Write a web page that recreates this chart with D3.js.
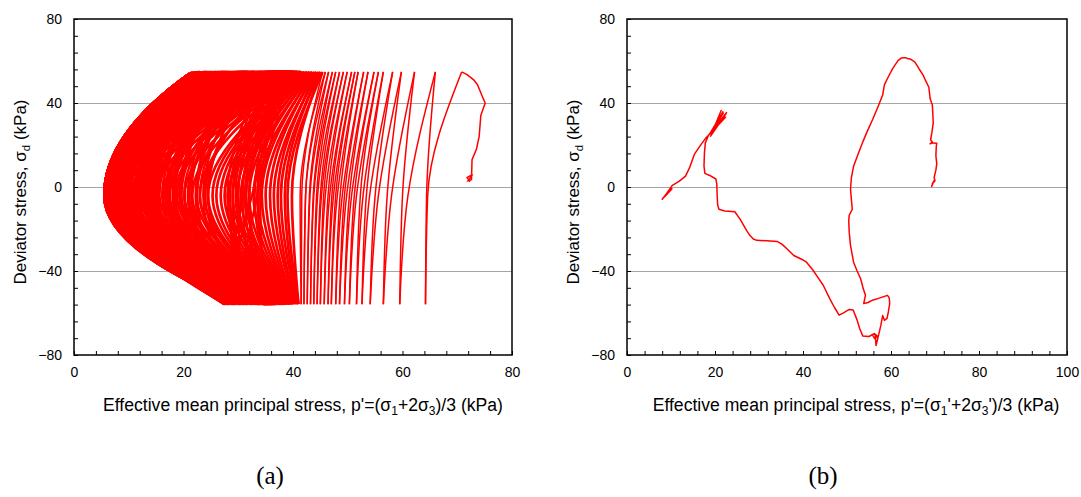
<!DOCTYPE html>
<html>
<head>
<meta charset="utf-8">
<script src="https://cdn.jsdelivr.net/npm/d3@7"></script>
<style>
  body { margin: 0; background: #fff; }
  text { font-family: "Liberation Sans", Arial, sans-serif; fill: #000; }
</style>
</head>
<body>
<script>
// ---------- panel (a): cyclic stress path ----------
// start of the test, before the first compression peak
const initP = [72.3, 71.8, 72.8, 72.0, 72.6, 72.7, 73.5, 74.0, 74.3, 75.1, 74.6, 73.7, 73.0, 71.8];
const initQ = [2.5, 4.5, 6.0, 3.0, 3.5, 13, 18, 24, 34, 40, 43, 48.7, 51, 53.5];

// stress levels the loops turn at (kPa)
const topQ = 54.8, kneeTopQ = 53.8, crossQ = -4, kneeBotQ = -52, botQ = -55.8;

// p' at the compression peak of each cycle
const pTop = [
  70.8, 66.0, 62.2, 59.8, 58.2, 56.5, 55.6, 54.8, 53.7, 52.9,
  51.9, 51.3, 50.7, 49.9, 49.2, 48.5, 47.8, 47.2, 46.5, 45.9,
  45.4, 45.0, 44.7, 44.3, 44.0, 43.6, 43.3, 43.0, 42.7, 42.4,
  42.1, 41.8, 41.5, 41.3, 41.0, 40.8, 40.5, 40.3, 40.1, 39.9,
  39.7, 39.5, 39.3, 39.1, 38.9, 38.7, 38.5, 38.3, 38.1, 37.9,
  39.6, 37.2, 38.8, 36.1, 37.9, 35.0, 36.8, 34.2, 35.7, 33.1,
  34.6, 32.0, 33.8, 31.2, 32.7, 30.1, 31.6, 29.4, 30.8, 28.3,
  29.7, 27.5, 28.9, 26.4, 27.8, 25.6, 27.0, 24.8, 26.1, 23.9,
  25.3, 23.2, 24.4, 22.6, 23.7, 22.1, 23.0, 21.8, 22.4, 21.6,
  38.4, 36.5, 34.9, 33.4, 31.9, 30.4, 28.7, 27.2, 25.0, 22.9,
  36.9, 24.1, 33.0, 27.9, 39.1, 22.7, 30.9, 35.4, 25.7, 37.6,
  29.1, 23.4, 34.3, 26.8, 31.8, 38.1, 24.9, 32.4, 28.5, 36.2,
  22.2, 30.2, 34.8, 27.3, 39.4, 25.2, 33.6, 29.9, 23.0, 37.0,
  31.2, 26.2, 35.9, 28.0, 24.3, 38.7, 32.9, 27.0, 30.6, 22.5,
  34.1, 25.9, 36.6, 29.4, 23.7, 33.2, 28.6, 37.9, 26.5, 31.5];
// p' where unloading crosses q = crossQ
const pDown = [
  64.6, 61.0, 58.0, 55.6, 54.0, 52.8, 51.6, 50.7, 49.8, 49.0,
  48.1, 47.4, 46.7, 45.9, 45.2, 44.5, 43.8, 43.1, 42.3, 41.3,
  39.0, 37.8, 36.5, 35.0, 33.5, 32.0, 30.5, 29.0, 27.5, 26.0,
  24.5, 23.0, 21.6, 20.2, 18.8, 17.5, 16.2, 15.0, 13.8, 12.7,
  11.6, 10.6, 9.7, 8.9, 8.2, 7.6, 7.1, 6.7, 6.4, 6.2,
  5.6, 12.4, 6.0, 18.5, 5.5, 9.2, 24.0, 5.8, 14.6, 6.4,
  20.8, 5.5, 8.1, 22.5, 5.7, 11.0, 16.8, 5.5, 7.2, 19.6,
  5.6, 13.5, 6.8, 17.2, 5.5, 10.1, 15.4, 5.7, 12.7, 6.2,
  14.8, 5.5, 8.7, 11.9, 5.6, 9.5, 13.0, 5.5, 7.7, 10.4,
  33.5, 5.8, 28.0, 6.6, 23.6, 5.5, 18.0, 5.6, 11.6, 5.5,
  8.2, 5.6, 17.4, 6.9, 31.5, 5.5, 12.2, 5.7, 9.9, 30.0,
  5.5, 13.6, 7.5, 16.1, 5.6, 33.0, 6.3, 10.8, 5.5, 29.5,
  8.8, 5.5, 14.1, 6.0, 34.0, 5.5, 23.0, 7.9, 5.6, 28.5,
  5.5, 11.0, 6.7, 18.4, 5.5, 32.0, 20.1, 5.7, 13.2, 6.5,
  16.6, 5.5, 30.8, 8.5, 5.6, 24.4, 6.2, 31.2, 10.2, 5.5];
// p' where extension loading reaches the extension line (null = never)
const pKneeBot = [
  null, null, null, null, null, null, null, null, null, null,
  null, null, null, null, null, null, null, null, null, null,
  null, null, null, null, null, null, null, null, null, null,
  null, null, null, null, null, null, null, null, 34.8, 33.7,
  32.6, 31.6, 30.7, 29.9, 29.2, 28.6, 28.1, 27.7, 27.4, 27.2,
  27.0, null, 26.9, null, 27.1, 29.2, null, 26.8, null, 26.9,
  null, 26.7, 28.1, null, 26.8, null, null, 26.6, 27.2, null,
  26.7, null, 26.9, null, 26.6, null, null, 26.5, null, 26.6,
  null, 26.4, null, null, 26.5, null, null, 26.4, null, null,
  null, 27.0, null, 26.9, null, 26.7, null, 26.6, null, 26.4,
  28.2, 26.5, null, 26.9, null, 26.4, null, 26.8, null, null,
  26.7, null, 27.5, null, 26.9, null, 26.6, null, 26.7, null,
  null, 26.8, null, 26.7, null, 26.5, null, 27.9, 26.6, null,
  26.8, null, 27.0, null, 26.5, null, null, 26.6, null, 26.5,
  null, 26.7, null, 28.5, 26.6, null, 26.8, null, null, 26.8];
// p' at the extension trough of each cycle
const pBot = [
  64.2, 59.5, 56.5, 54.1, 52.6, 51.6, 50.3, 49.4, 48.5, 47.8,
  47.0, 46.4, 45.7, 45.0, 44.4, 43.8, 43.2, 42.6, 42.0, 41.5,
  41.0, 40.7, 40.4, 40.1, 39.9, 39.7, 39.5, 39.3, 39.1, 38.9,
  38.7, 38.5, 38.3, 38.1, 37.9, 37.7, 37.5, 37.3, 37.1, 36.9,
  36.7, 36.5, 36.3, 36.1, 35.9, 35.7, 35.5, 35.3, 35.1, 34.9,
  34.8, 33.2, 34.3, 32.5, 33.7, 31.8, 33.0, 31.0, 32.3, 30.4,
  31.6, 29.9, 31.0, 29.4, 30.5, 29.0, 30.0, 28.7, 29.6, 28.4,
  29.2, 28.2, 28.9, 28.0, 28.6, 27.9, 28.4, 27.8, 28.2, 27.7,
  28.0, 27.6, 27.9, 27.5, 27.8, 27.5, 27.7, 27.4, 27.6, 27.4,
  36.0, 34.0, 32.8, 31.4, 30.2, 29.3, 28.8, 28.1, 27.8, 27.5,
  33.6, 27.6, 36.4, 29.8, 37.8, 27.5, 31.2, 34.5, 28.4, 35.2,
  30.1, 28.9, 32.7, 29.0, 33.9, 36.8, 27.9, 31.7, 30.6, 37.4,
  28.2, 32.2, 35.7, 29.4, 34.9, 27.7, 37.1, 30.9, 28.6, 33.3,
  31.5, 29.2, 36.1, 30.3, 27.8, 35.5, 32.9, 28.8, 34.2, 27.6,
  36.7, 29.6, 33.1, 31.0, 28.1, 37.6, 30.4, 35.0, 29.0, 32.4];
// p' where reloading crosses q = crossQ
const pUp = [
  64.4, 60.0, 57.2, 55.0, 53.4, 52.3, 51.2, 50.3, 49.4, 48.6,
  47.8, 47.1, 46.4, 45.6, 45.0, 44.3, 43.7, 43.0, 42.3, 41.6,
  39.8, 38.5, 37.2, 35.8, 34.3, 32.8, 31.3, 29.8, 28.3, 26.8,
  25.3, 23.8, 22.4, 21.0, 19.6, 18.2, 16.9, 15.6, 14.4, 13.2,
  12.1, 11.1, 10.2, 9.3, 8.6, 7.9, 7.4, 6.9, 6.6, 6.3,
  6.8, 5.5, 15.2, 5.7, 21.0, 8.4, 5.5, 12.9, 24.5, 5.6,
  10.4, 17.3, 5.5, 7.0, 20.8, 5.6, 13.8, 9.0, 5.5, 18.2,
  6.1, 22.4, 5.5, 11.5, 16.2, 5.7, 7.9, 19.5, 5.5, 14.3,
  9.8, 5.6, 16.8, 6.5, 12.6, 5.5, 15.0, 8.3, 5.6, 32.5,
  30.0, 5.5, 16.9, 7.4, 22.2, 5.6, 13.1, 6.9, 5.5, 5.5,
  5.5, 14.0, 6.4, 30.5, 5.5, 9.6, 5.6, 12.1, 5.5, 16.7,
  7.2, 5.5, 10.7, 5.6, 32.0, 5.5, 8.0, 15.1, 5.5, 11.3,
  5.5, 29.0, 5.7, 33.5, 6.8, 5.5, 21.4, 5.5, 9.1, 5.6,
  12.5, 5.5, 7.7, 5.5, 31.0, 5.6, 10.0, 5.5, 14.6, 6.0,
  5.5, 28.5, 5.5, 8.9, 5.6, 19.2, 29.0, 13.9, 5.6, 7.5];
// p' where compression reloading reaches the peak level (null = never)
const pKneeTop = [
  null, null, null, null, null, null, null, null, null, null,
  null, null, null, null, null, null, null, null, null, null,
  null, null, null, null, null, null, null, null, null, null,
  null, 39.8, 38.4, 37.0, 35.6, 34.2, 32.9, 31.6, 30.4, 29.2,
  28.1, 27.1, 26.2, 25.3, 24.6, 23.9, 23.4, 22.9, 22.6, 22.3,
  22.3, 21.0, 30.7, 21.2, null, 23.9, 21.0, 28.4, null, 21.1,
  25.9, null, 21.0, 22.5, null, 21.1, null, 24.5, 21.0, null,
  21.6, null, 21.0, null, null, 21.2, 23.4, null, 21.0, null,
  null, 21.1, null, 22.0, null, 21.0, null, null, 21.1, null,
  null, 21.0, null, 22.9, null, 21.1, null, null, 21.0, 21.0,
  21.0, 29.5, 21.9, null, 21.0, 25.1, 21.1, null, 21.0, null,
  null, 21.0, null, 21.1, null, 21.0, 23.5, null, 21.0, null,
  21.0, null, 21.2, null, 22.3, 21.0, null, 21.0, 24.6, 21.1,
  null, 21.0, 23.2, 21.0, null, 21.1, 25.5, 21.0, null, 21.5,
  21.0, null, 21.0, null, 21.1, null, null, null, 21.1, 23.0];

// ---------- panel (b): single stress path ----------
const pathBP = [69.2, 69.7, 69.3, 69.9, 69.4, 70.0, 69.8, 70.2, 70.4, 70.2, 70.3, 70.4, 69.6, 68.9, 69.4, 69.0, 69.3, 69.6, 69.5, 69.4,
  68.9, 68.6, 67.9, 67.3, 66.4, 65.4, 64.5, 63.8, 63.2, 62.3, 61.6, 60.4, 59.4, 58.5, 58.1, 57.0, 55.8, 54.6, 53.5, 52.4,
  51.5, 51.0, 50.8, 51.0, 51.2, 50.5, 50.4, 50.5, 50.8, 51.5, 52.3, 53.1, 53.7, 54.2, 53.8, 54.8, 55.8, 57.5, 59.2, 59.6,
  59.7, 59.4, 59.1, 58.5, 58.1, 57.7, 57.3, 56.9, 56.6, 56.4, 55.7, 56.3, 56.9, 56.2, 55.0, 53.6, 52.9, 52.3, 51.4, 50.5,
  49.3, 48.2, 47.2, 46.1, 44.6, 43.3, 42.2, 40.8, 39.8, 37.9, 36.4, 35.2, 34.1, 31.8, 29.5, 28.7, 27.9, 27.2, 25.7, 24.5,
  22.2, 20.9, 20.6, 20.5, 20.4, 20.2, 18.8, 17.7, 17.5, 17.6, 17.8, 18.5, 19.0, 21.8, 19.3, 22.5, 19.0, 21.4, 19.6, 22.6,
  18.9, 21.2, 19.5, 22.1, 18.7, 21.9, 19.2, 22.4, 18.6, 17.9, 16.6, 15.3, 14.2, 13.3, 11.9, 10.7, 10.3, 8.3, 10.0, 8.0,
  9.6, 8.5, 10.2, 8.2, 9.2];
const pathBQ = [0.0, 2.6, 0.8, 3.4, 1.6, 3.0, 4.5, 8, 11, 15, 19.5, 20.8, 21.0, 20.6, 21.3, 22.5, 26, 30.5, 35, 39,
  42, 47.5, 50.5, 53.3, 56.2, 59.6, 60.8, 61.2, 61.6, 61.4, 60.2, 56.5, 52.5, 48.6, 43.8, 38, 32, 26.5, 21, 15,
  9.9, 4.5, -1.1, -6, -10.6, -13.5, -16, -21.5, -27.9, -35.8, -40, -43.7, -48.5, -51.5, -55.5, -55, -53.9, -52.8, -51.6, -52.8,
  -55.5, -59.5, -62.6, -63.5, -61.2, -65.8, -69.5, -72.9, -75.5, -70, -70.2, -72.2, -71, -69.8, -71.2, -71, -67.5, -63.4, -58.6, -58.3,
  -59.8, -61, -57.5, -53.3, -46.8, -42.8, -39.4, -35.8, -34.5, -32.6, -29.5, -27.2, -25.9, -25.6, -25.4, -24.8, -23, -20.8, -15.3, -11.8,
  -11.4, -10.6, -8.5, -4.3, 1.5, 3.8, 5.5, 6.5, 10, 16.2, 21, 24.5, 26.0, 35.8, 25.2, 34.8, 24.2, 36.4, 27.2, 35.4,
  25.5, 33.8, 26.8, 34.0, 25.0, 35.2, 26.4, 33.2, 24.8, 23.3, 19.6, 15.5, 9.1, 5.2, 2.8, 1.3, 0.8, -5.2, -0.5, -5.8,
  -1.8, -4.6, -0.9, -5.4, -3.2];

// ---------- axes ----------
const qTicks = [-80, -40, 0, 40, 80];
const qGrid = [-40, 0, 40];
const qMinor = d3.range(-80, 81, 8);
const pTicksA = [0, 20, 40, 60, 80];
const pMinorA = d3.range(0, 81, 4);
const pTicksB = [0, 20, 40, 60, 80, 100];
const pMinorB = d3.range(0, 101, 4);

const W = 1081, H = 497;
const svg = d3.select("body").append("svg").attr("width", W).attr("height", H);
svg.append("rect").attr("width", W).attr("height", H).attr("fill", "#fff");

function drawPanel(left, right, pMax, pTicks, pMinor, primes, tag, tagX, titleX) {
  const top = 19, bottom = 355;
  const x = d3.scaleLinear().domain([0, pMax]).range([left, right]);
  const y = d3.scaleLinear().domain([-80, 80]).range([bottom, top]);
  const g = svg.append("g");

  // grid
  g.append("g")
    .attr("transform", "translate(" + left + ",0)")
    .call(d3.axisLeft(y).tickValues(qGrid).tickSize(-(right - left)).tickFormat(""))
    .call(s => s.select(".domain").remove())
    .selectAll("line").attr("stroke", "#a6a6a6").attr("stroke-width", 1);

  // inner minor ticks
  g.append("g")
    .attr("transform", "translate(0," + bottom + ")")
    .call(d3.axisBottom(x).tickValues(pMinor).tickSize(-4).tickFormat(""))
    .call(s => s.select(".domain").remove());
  g.append("g")
    .attr("transform", "translate(" + left + ",0)")
    .call(d3.axisLeft(y).tickValues(qMinor).tickSize(-4).tickFormat(""))
    .call(s => s.select(".domain").remove());

  // labels
  g.append("g")
    .attr("transform", "translate(0," + bottom + ")")
    .call(d3.axisBottom(x).tickValues(pTicks).tickSize(0).tickPadding(12))
    .call(s => s.select(".domain").remove())
    .selectAll("text").attr("font-size", 14).attr("font-family", "Liberation Sans, Arial, sans-serif");
  g.append("g")
    .attr("transform", "translate(" + left + ",0)")
    .call(d3.axisLeft(y).tickValues(qTicks).tickSize(0).tickPadding(12))
    .call(s => s.select(".domain").remove())
    .selectAll("text").attr("font-size", 14).attr("font-family", "Liberation Sans, Arial, sans-serif");

  // y title
  const yt = g.append("text")
    .attr("transform", "translate(" + (left - 54) + "," + ((top + bottom) / 2 + 5) + ") rotate(-90)")
    .attr("text-anchor", "middle").attr("dy", "0.35em").attr("font-size", 17);
  yt.append("tspan").text("Deviator stress, σ");
  yt.append("tspan").attr("font-size", 11.5).attr("dy", 4).text("d");
  yt.append("tspan").attr("dy", -4).text(" (kPa)");

  // x title
  const xt = g.append("text")
    .attr("x", titleX).attr("y", 411)
    .attr("text-anchor", "middle").attr("font-size", 17.6);
  xt.append("tspan").text("Effective mean principal stress, p'=(σ");
  xt.append("tspan").attr("font-size", 12).attr("dy", 4).text("1");
  xt.append("tspan").attr("dy", -4).text(primes + "+2σ");
  xt.append("tspan").attr("font-size", 12).attr("dy", 4).text("3");
  xt.append("tspan").attr("dy", -4).text(primes + ")/3 (kPa)");

  // panel tag
  g.append("text").attr("x", tagX).attr("y", 484)
    .attr("text-anchor", "middle").attr("font-size", 25)
    .style("font-family", "Liberation Serif, 'Times New Roman', serif")
    .text(tag);

  const marks = g.append("g");

  // box
  g.append("rect")
    .attr("x", left).attr("y", top).attr("width", right - left).attr("height", bottom - top)
    .attr("fill", "none").attr("stroke", "#000").attr("stroke-width", 1.5);

  return { marks, x, y };
}

// panel (a): split into half cycles, each monotone in q
const A = drawPanel(74, 512, 80, pTicksA, pMinorA, "", "(a)", 270, 303);
const initPts = initP.map((p, i) => [p, initQ[i]]).concat([[pTop[0], topQ]]);
const halves = [];
pTop.forEach((p, i) => {
  const down = [[p, topQ], [pDown[i], crossQ]];
  if (pKneeBot[i] != null) down.push([pKneeBot[i], kneeBotQ]);
  down.push([pBot[i], botQ]);
  halves.push({ cycle: i, pts: down });
  const up = [[pBot[i], botQ], [pUp[i], crossQ]];
  if (pKneeTop[i] != null) up.push([pKneeTop[i], kneeTopQ]);
  if (i + 1 < pTop.length) up.push([pTop[i + 1], topQ]);
  halves.push({ cycle: i, pts: up });
});

A.marks.append("path")
  .datum(initPts)
  .attr("d", d3.line().x(d => A.x(d[0])).y(d => A.y(d[1])))
  .attr("fill", "none").attr("stroke", "#ff0000").attr("stroke-width", 1.5);

const lineA = d3.line()
  .x(d => A.x(d[0])).y(d => A.y(d[1]))
  .curve(d3.curveMonotoneY);
// later cycles pile up into a nearly solid band; draw them a little heavier
A.marks.selectAll("path.half")
  .data(halves)
  .join("path")
  .attr("class", "half")
  .attr("d", d => lineA(d.pts))
  .attr("fill", "none").attr("stroke", "#ff0000")
  .attr("stroke-width", d => d.cycle < 20 ? 1.5 : d.cycle < 50 ? 2.7 : 2.3);

// panel (b)
const B = drawPanel(627, 1067, 100, pTicksB, pMinorB, "'", "(b)", 823, 856);
const bPoints = pathBP.map((p, i) => [p, pathBQ[i]]);
B.marks.append("path")
  .datum(bPoints)
  .attr("d", d3.line().x(d => B.x(d[0])).y(d => B.y(d[1])))
  .attr("fill", "none").attr("stroke", "#ff0000").attr("stroke-width", 1.5)
  .attr("stroke-linejoin", "round");
</script>
</body>
</html>
